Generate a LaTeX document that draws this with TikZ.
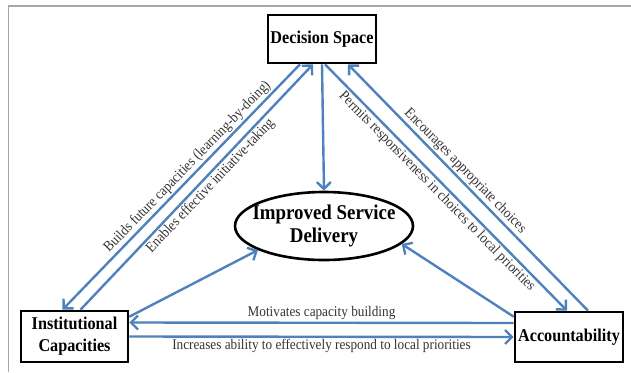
\documentclass[tikz,border=0pt]{standalone}
\usepackage{fontspec}
\setmainfont[FakeStretch=0.9]{Liberation Serif}
\usetikzlibrary{arrows.meta,shapes.geometric}
\definecolor{flowblue}{RGB}{79,129,189}

\begin{document}
\begin{tikzpicture}[x=1pt,y=-1pt,
  box/.style={draw=black, line width=2.6pt, minimum width=108pt, minimum height=48pt,
    align=center, inner sep=1pt, font=\fontsize{18}{22}\selectfont\bfseries},
  flow/.style={draw=flowblue, line width=2.4pt, -{Straight Barb[length=7pt,width=14pt]}},
  lbl/.style={font=\fontsize{14.7}{17}\selectfont, text=black!80, inner sep=1.5pt}]

\useasboundingbox (0,0) rectangle (631,372);

% frame
\draw[gray!70, line width=1.5pt] (8.5,372) -- (8.5,6) -- (631,6);

% boxes
\node[box] (ds) at (322,39) {Decision Space};
\node[box, minimum width=107pt, minimum height=51pt] (ic) at (74.5,336.5) {Institutional\\Capacities};
\node[box, minimum height=50pt] (acc) at (569,337) {Accountability};

% centre
\node[ellipse, draw=black, line width=2.6pt, minimum width=178pt, minimum height=68pt,
  inner xsep=-14pt, inner ysep=-2pt, align=center,
  font=\fontsize{21}{23}\selectfont\bfseries] (isd) at (324,226) {Improved Service\\Delivery};

% decision space links
\draw[flow] (ds.south) -- (isd.north);
\draw[flow] ([xshift=-22pt]ds.south) -- ([xshift=-12pt]ic.north)
  node[lbl, pos=0.445, sloped, above] {Builds future capacities (learning-by-doing)};
\draw[flow] ([xshift=6pt]ic.north) -- ([xshift=-9pt]ds.south)
  node[lbl, pos=0.53, sloped, below] {Enables effective initiative-taking};
\draw[flow] ([xshift=3pt]ds.south) -- ([xshift=-2pt]acc.north)
  node[lbl, pos=0.49, sloped, below] {Permits responsiveness in choices to local priorities};
\draw[flow] ([xshift=19pt]acc.north) -- ([xshift=26pt]ds.south)
  node[lbl, pos=0.54, sloped, above] {Encourages appropriate choices};

% links to service delivery
\draw[flow] ([yshift=-7pt]ic.north east) -- (isd.200);
\draw[flow] ([yshift=-6pt]acc.north west) -- (isd.-13);

% bottom links
\draw[flow] ([yshift=14pt]acc.west) -- ([yshift=14pt]ic.east)
  node[lbl, midway, above] {Motivates capacity building};
\draw[flow] (ic.east) -- (acc.west)
  node[lbl, midway, below] {Increases ability to effectively respond to local priorities};

\end{tikzpicture}
\end{document}
